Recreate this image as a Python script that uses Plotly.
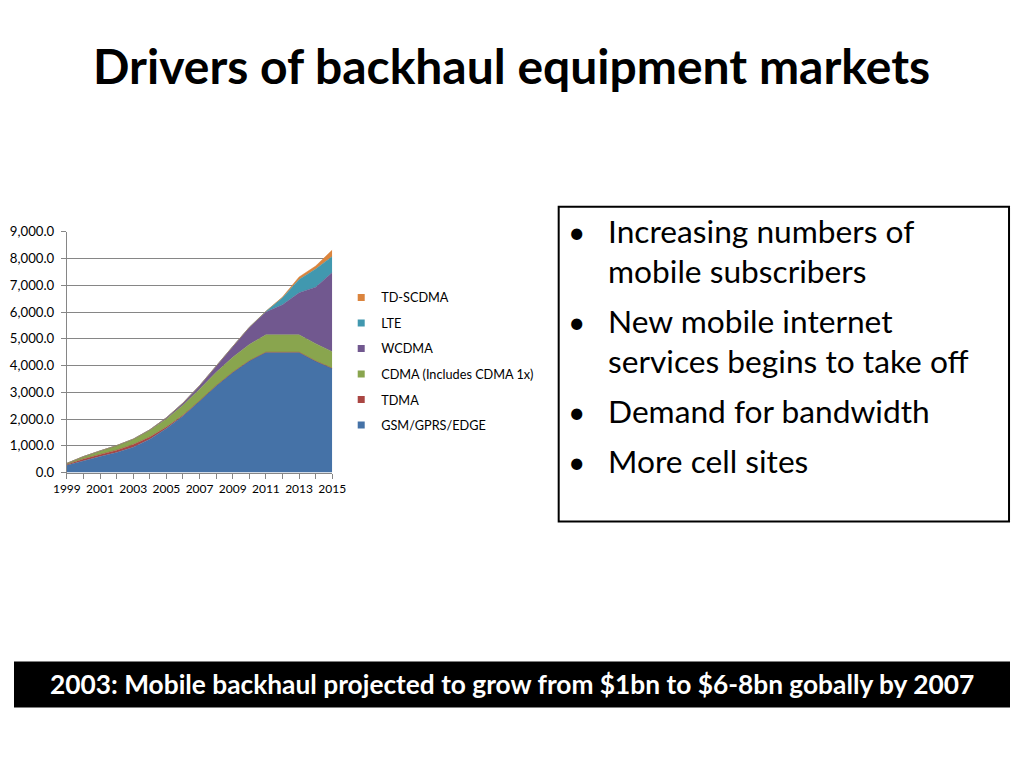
import plotly.graph_objects as go

years = list(range(1999, 2016))
year_labels = [str(y) if (y - 1999) % 2 == 0 else "" for y in years]
gsm = [275, 450, 600, 750, 950, 1250, 1650, 2120, 2680, 3250, 3750, 4180, 4500, 4500, 4500, 4170, 3900]
tdma = [30, 60, 80, 90, 100, 80, 50, 20, 0, 0, 0, 0, 0, 0, 0, 0, 0]
cdma = [40, 90, 130, 170, 200, 250, 300, 380, 440, 500, 560, 610, 650, 650, 650, 650, 620]
wcdma = [0, 0, 0, 0, 0, 20, 50, 80, 130, 250, 400, 640, 850, 1120, 1570, 2110, 2960]
lte = [0, 0, 0, 0, 0, 0, 0, 0, 0, 0, 0, 0, 30, 270, 500, 680, 600]
tdscdma = [0, 0, 0, 0, 0, 0, 0, 0, 0, 0, 0, 0, 0, 20, 90, 110, 240]

series = [
    ("GSM/GPRS/EDGE", gsm, "#4572A7"),
    ("TDMA", tdma, "#AA4643"),
    ("CDMA (Includes CDMA 1x)", cdma, "#89A54E"),
    ("WCDMA", wcdma, "#71588F"),
    ("LTE", lte, "#4198AF"),
    ("TD-SCDMA", tdscdma, "#DB843D"),
]

FONT = "Lato"
W, H = 1024, 768
# observed mapping from figure pixels to photographed pixels
OX, SX = 13.0, 0.975
OY, SY = 7.0, 0.98


def X(p):
    """target picture x pixel -> paper fraction"""
    return ((p - OX) / SX) / W


def Y(p):
    """target picture y pixel -> paper fraction"""
    return 1 - ((p - OY) / SY) / H


fig = go.Figure()
for name, vals, col in series:
    fig.add_trace(go.Scatter(
        x=years, y=vals, name=name, mode="lines", stackgroup="one",
        line=dict(width=0.5, color=col), fillcolor=col, showlegend=False,
    ))
# legend entries with small square swatches (top of stack listed first)
for name, vals, col in reversed(series):
    fig.add_trace(go.Scatter(
        x=[None], y=[None], name=name, mode="markers",
        marker=dict(symbol="square", size=7, color=col), legendgroup=name,
    ))

fig.update_layout(
    width=W, height=H, autosize=False,
    margin=dict(l=0, r=0, t=0, b=0),
    paper_bgcolor="white", plot_bgcolor="white",
    font=dict(family=FONT, color="#000000"),
    xaxis=dict(
        domain=[X(66), X(332)], range=[1999, 2015],
        tickmode="array", tickvals=years, ticktext=year_labels,
        showgrid=False, showline=True, linecolor="#868686", linewidth=1,
        ticks="outside", ticklen=5, tickcolor="#868686",
        tickfont=dict(size=12, color="#000000", family=FONT),
        fixedrange=True,
    ),
    yaxis=dict(
        domain=[Y(472), Y(231)], range=[0, 9000], dtick=1000,
        tickformat=",.1f", showgrid=True, gridcolor="#868686", gridwidth=1,
        showline=True, linecolor="#868686", linewidth=1,
        ticks="outside", ticklen=5, tickcolor="#868686",
        ticklabelstandoff=4,
        tickfont=dict(size=13.2, color="#000000", family=FONT),
        zeroline=False, fixedrange=True,
    ),
    legend=dict(
        x=X(341), y=Y(282), xanchor="left", yanchor="top",
        traceorder="grouped", font=dict(size=12.7, family=FONT),
        tracegroupgap=6, itemwidth=30, bgcolor="rgba(0,0,0,0)",
    ),
    showlegend=True,
)

shapes = [
    dict(type="rect", xref="paper", yref="paper", x0=X(559), x1=min(X(1012), 1023 / W), y0=Y(521), y1=Y(206),
         line=dict(color="black", width=2), fillcolor="rgba(0,0,0,0)"),
    dict(type="rect", xref="paper", yref="paper", x0=0, x1=1, y0=Y(707), y1=Y(661),
         line=dict(width=0), fillcolor="black"),
]
fig.update_layout(shapes=shapes)

ann = []
ann.append(dict(text="<b>Drivers of backhaul equipment markets</b>", x=X(512), y=Y(65),
                xref="paper", yref="paper", xanchor="center", yanchor="middle",
                showarrow=False, font=dict(size=48, family=FONT, color="black")))

lines = [
    (233, True, "Increasing numbers of"),
    (273, False, "mobile subscribers"),
    (323, True, "New mobile internet"),
    (363, False, "services begins to take off"),
    (413, True, "Demand for bandwidth"),
    (463, True, "More cell sites"),
]
for yy, bullet, txt in lines:
    if bullet:
        ann.append(dict(text="•", x=X(566), y=Y(yy - 3), xref="paper", yref="paper",
                        xanchor="left", yanchor="middle", showarrow=False,
                        font=dict(size=30, family=FONT, color="black")))
    ann.append(dict(text=txt, x=X(606), y=Y(yy - 3), xref="paper", yref="paper",
                    xanchor="left", yanchor="middle", showarrow=False,
                    font=dict(size=31.7, family=FONT, color="black")))

ann.append(dict(text="<b>2003: Mobile backhaul projected to grow from $1bn to $6-8bn gobally by 2007</b>",
                x=X(512), y=Y(684), xref="paper", yref="paper", xanchor="center", yanchor="middle",
                showarrow=False, font=dict(size=26.3, family=FONT, color="white")))
fig.update_layout(annotations=ann)

fig.write_html(
    "out.html",
    config={"displayModeBar": False},
    post_script="document.body.style.margin='0';document.body.style.padding='0';document.body.style.overflow='hidden';",
)
